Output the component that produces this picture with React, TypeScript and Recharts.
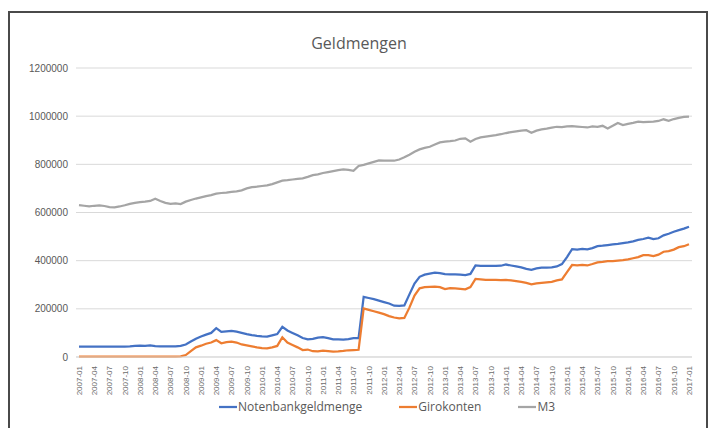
import React from 'react';
import { LineChart, Line, XAxis, YAxis, CartesianGrid } from 'recharts';

// month categories 2007-01 .. 2017-01
const years = [2007, 2008, 2009, 2010, 2011, 2012, 2013, 2014, 2015, 2016];
const monthCodes = ['01', '02', '03', '04', '05', '06', '07', '08', '09', '10', '11', '12'];
const categories = [...years.flatMap(y => monthCodes.map(m => `${y}-${m}`)), '2017-01'];

// values in thousands, one per month
const notenbank = [
    43, 43, 43, 43, 43, 43, 43, 43, 43, 43, 44, 46,
    47, 46, 48, 45, 44, 44, 44, 44, 46, 52, 64, 76,
    85, 93, 100, 120, 104, 106, 108, 105, 100, 95, 91, 88,
    86, 85, 90, 95, 125, 110, 100, 90, 79, 73, 75, 80,
    82, 78, 73, 73, 72, 74, 78, 78, 250, 245, 240, 234,
    228, 222, 213, 212, 214, 260, 305, 333, 342, 346, 350, 348,
    344, 343, 343, 342, 340, 345, 380, 378, 378, 378, 378, 379,
    384, 380, 376, 372, 366, 362, 368, 371, 371, 372, 376, 386,
    415, 448, 446, 449, 447, 452, 460, 462, 465, 468, 470, 473,
    476, 480, 486, 490, 496, 490, 493, 505, 512, 520, 527, 533,
    541,
];
const girokonten = [
    2, 2, 2, 2, 2, 2, 2, 2, 2, 2, 2, 2,
    2, 2, 2, 2, 2, 2, 2, 2, 3, 8, 24, 40,
    47, 55, 60, 70, 57, 62, 64, 60, 52, 48, 44, 40,
    37, 36, 40, 46, 82, 60, 50, 40, 29, 31, 24, 23,
    26, 24, 22, 23, 25, 28, 29, 30, 202, 196, 190, 184,
    178, 170, 164, 160, 162, 205, 255, 285, 290, 291, 292, 290,
    282, 286, 285, 283, 281, 290, 324, 322, 320, 320, 320, 319,
    320, 318, 315, 312, 308, 302, 306, 308, 310, 312, 318, 322,
    352, 382, 380, 382, 380, 386, 393, 395, 398, 398, 400, 402,
    405, 410, 415, 423, 423, 419, 425, 437, 440, 446, 456, 460,
    468,
];
const m3 = [
    631, 628, 625, 628, 630, 627, 622, 621, 625, 630, 636, 640,
    643, 645, 648, 657, 648, 640, 636, 638, 635, 645, 652, 658,
    663, 668, 672, 678, 681, 683, 686, 688, 692, 700, 705, 707,
    710, 713, 718, 725, 732, 734, 737, 740, 742, 748, 755, 758,
    764, 768, 772, 776, 779, 777, 773, 793, 798, 804, 810, 816,
    815, 815, 815, 820, 829, 840, 852, 862, 868, 873, 882, 891,
    894, 896, 899, 906, 908, 894, 905, 912, 915, 918, 921, 925,
    930, 934, 937, 940, 942, 931, 940, 945, 948, 952, 956, 955,
    958, 959, 957, 955, 953, 958, 956, 960, 949, 960, 972, 963,
    968, 972, 977, 975, 976, 977, 980, 987, 981, 988, 993, 997,
    998,
];
const yTicks = [0, 200000, 400000, 600000, 800000, 1000000, 1200000];

const seriesInfo = [
    { key: 'notenbank', name: 'Notenbankgeldmenge', color: '#4472C4' },
    { key: 'girokonten', name: 'Girokonten', color: '#ED7D31' },
    { key: 'm3', name: 'M3', color: '#A5A5A5' },
];

const data = categories.map((date, i) => ({
    date,
    notenbank: notenbank[i] * 1000,
    girokonten: girokonten[i] * 1000,
    m3: m3[i] * 1000,
}));

// eslint-disable-next-line @typescript-eslint/no-explicit-any
function RotatedTick({ x, y, payload }: any) {
    return (
        <text
            x={x}
            y={y}
            transform={`rotate(-90, ${x}, ${y})`}
            textAnchor="end"
            dy="0.35em"
            dx={-1}
            fontSize={8}
            fontFamily="'Liberation Sans', Arial, sans-serif"
            fill="#6b6b6b"
        >
            {payload.value}
        </text>
    );
}

export default function App() {
    return (
        <div style={{ position: 'relative', width: 718, height: 428, overflow: 'hidden', background: '#fff' }}>
            <style>{'body{margin:0}'}</style>
            <div
                style={{
                    position: 'absolute', left: 8, top: 11, width: 700, height: 440,
                    border: '2px solid #4a4a4a', boxSizing: 'border-box',
                }}
            />
            <div
                style={{
                    position: 'absolute', left: 9, top: 32, width: 700, textAlign: 'center',
                    fontFamily: "'Open Sans', sans-serif", fontSize: 16, color: '#595959',
                }}
            >
                Geldmengen
            </div>

            <div style={{ position: 'absolute', left: 0, top: 0 }}>
                <LineChart width={718} height={428} data={data} margin={{ top: 68, right: 26, left: 0, bottom: 31 }}>
                    <CartesianGrid vertical={false} stroke="#d9d9d9" strokeWidth={1} />
                    <XAxis
                        dataKey="date"
                        interval={2}
                        tick={<RotatedTick />}
                        tickLine={false}
                        axisLine={{ stroke: '#d9d9d9' }}
                        height={40}
                        padding={{ left: 3, right: 3 }}
                    />
                    <YAxis
                        width={76}
                        domain={[0, 1200000]}
                        ticks={yTicks}
                        tickLine={false}
                        axisLine={false}
                        tick={{ fontSize: 10, fill: '#595959', fontFamily: "'Liberation Sans', Arial, sans-serif" }}
                    />
                    {seriesInfo.map(s => (
                        <Line
                            key={s.key}
                            type="linear"
                            dataKey={s.key}
                            name={s.name}
                            stroke={s.color}
                            strokeWidth={2.25}
                            dot={false}
                            isAnimationActive={false}
                        />
                    ))}
                </LineChart>
            </div>

            <div
                style={{
                    position: 'absolute', left: 0, top: 398, width: 774, display: 'flex', justifyContent: 'center',
                    gap: 37, fontFamily: "'Open Sans', sans-serif", fontSize: 12, color: '#595959',
                }}
            >
                {seriesInfo.map(s => (
                    <div key={s.key} style={{ display: 'flex', alignItems: 'center' }}>
                        <svg width={18} height={4} style={{ marginRight: 1 }}>
                            <line x1={0} y1={2} x2={18} y2={2} stroke={s.color} strokeWidth={2.25} />
                        </svg>
                        <span>{s.name}</span>
                    </div>
                ))}
            </div>
        </div>
    );
}
